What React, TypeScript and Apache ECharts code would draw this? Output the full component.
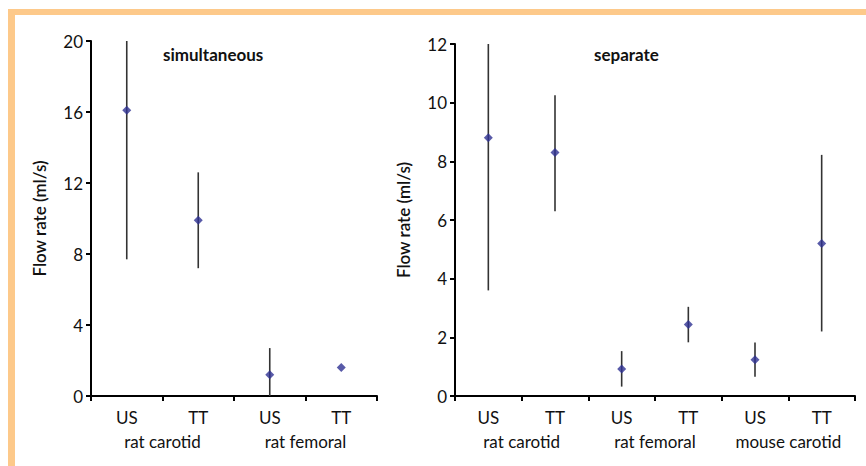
import React, { useEffect, useRef } from "react";
import * as echarts from "echarts";

const catsLeft = ["US", "TT", "US", "TT"];
const groupsLeft = ["rat carotid", "rat femoral"];
const meanLeft = [16.1, 9.9, 1.2, 1.6];
const lowLeft = [7.7, 7.2, 0, 1.6];
const highLeft = [20, 12.6, 2.7, 1.6];

const catsRight = ["US", "TT", "US", "TT", "US", "TT"];
const groupsRight = ["rat carotid", "rat femoral", "mouse carotid"];
const meanRight = [8.8, 8.3, 0.92, 2.44, 1.24, 5.2];
const lowRight = [3.6, 6.3, 0.32, 1.83, 0.66, 2.2];
const highRight = [12, 10.25, 1.53, 3.04, 1.82, 8.22];

const FONT = "Lato";
const ORANGE = "#FDC98A";

export default function App() {
  const ref = useRef<HTMLDivElement>(null);
  useEffect(() => {
    if (!ref.current) return;
    const chart = echarts.init(ref.current, null, { renderer: "svg" });
    const axisLineStyle = { color: "#000", width: 2 };
    const mkYAxis = (grid: number, max: number, interval: number) => ({
      type: "value",
      gridIndex: grid,
      min: 0,
      max,
      interval,
      name: "Flow rate (ml/s)",
      nameLocation: "middle",
      nameGap: 43,
      nameTextStyle: { fontFamily: FONT, fontSize: 17, color: "#111", fontWeight: 600 },
      axisLine: { show: true, lineStyle: axisLineStyle },
      axisTick: { show: true, length: 5, lineStyle: { color: "#000", width: 2 } },
      axisLabel: { fontFamily: FONT, fontSize: 17, color: "#111", margin: 8 },
      splitLine: { show: false },
    });
    const mkXAxis = (grid: number, cats: string[]) => ({
      type: "category",
      gridIndex: grid,
      data: cats,
      boundaryGap: true,
      axisLine: { show: true, lineStyle: axisLineStyle },
      axisTick: { show: true, length: 5, lineStyle: { color: "#000", width: 2 } },
      axisLabel: { fontFamily: FONT, fontSize: 17, color: "#111", margin: 13, interval: 0, hideOverlap: false },
      splitLine: { show: false },
    });
    const mkGroupAxis = (grid: number, groups: string[]) => ({
      type: "category",
      gridIndex: grid,
      data: groups,
      position: "bottom",
      offset: 24,
      boundaryGap: true,
      axisLine: { show: false },
      axisTick: { show: false },
      axisLabel: { fontFamily: FONT, fontSize: 17, color: "#111", margin: 13, interval: 0, hideOverlap: false },
      splitLine: { show: false },
    });
    const errSeries = (xi: number, yi: number, low: number[], high: number[]) => ({
      type: "custom",
      xAxisIndex: xi,
      yAxisIndex: yi,
      data: low.map((l, i) => [i, l, high[i]]),
      renderItem: (params: any, api: any) => {
        const x = api.value(0);
        const a = api.coord([x, api.value(1)]);
        const b = api.coord([x, api.value(2)]);
        return {
          type: "line",
          shape: { x1: a[0], y1: a[1], x2: b[0], y2: b[1] },
          style: { stroke: "#333", lineWidth: 1.6 },
        };
      },
      z: 2,
    });
    const ptSeries = (xi: number, yi: number, mean: number[]) => ({
      type: "scatter",
      xAxisIndex: xi,
      yAxisIndex: yi,
      data: mean.map((m, i) => [i, m]),
      symbol: "diamond",
      symbolSize: 9,
      itemStyle: { color: "#2E3192" },
      z: 3,
    });
    chart.setOption({
      animation: false,
      backgroundColor: "#fff",
      title: [
        { text: "simultaneous", left: 158, top: 41, textStyle: { fontFamily: FONT, fontSize: 17, fontWeight: "bold", color: "#111" } },
        { text: "separate", left: 589, top: 41, textStyle: { fontFamily: FONT, fontSize: 17, fontWeight: "bold", color: "#111" } },
      ],
      graphic: [
        { type: "rect", shape: { x: 8, y: 9, width: 858, height: 6 }, style: { fill: ORANGE } },
        { type: "rect", shape: { x: 8, y: 9, width: 7, height: 457 }, style: { fill: ORANGE } },
      ],
      grid: [
        { left: 91, top: 41, width: 286, height: 355 },
        { left: 455, top: 44, width: 400, height: 352 },
      ],
      xAxis: [
        mkXAxis(0, catsLeft),
        mkGroupAxis(0, groupsLeft),
        mkXAxis(1, catsRight),
        mkGroupAxis(1, groupsRight),
      ],
      yAxis: [mkYAxis(0, 20, 4), mkYAxis(1, 12, 2)],
      series: [
        errSeries(0, 0, lowLeft, highLeft),
        ptSeries(0, 0, meanLeft),
        errSeries(2, 1, lowRight, highRight),
        ptSeries(2, 1, meanRight),
      ],
    });
    return () => chart.dispose();
  }, []);
  return <div ref={ref} style={{ position: "absolute", left: 0, top: 0, width: 866, height: 466 }} />;
}
